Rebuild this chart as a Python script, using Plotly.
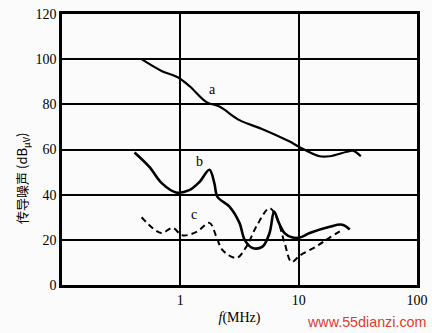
import math
import plotly.graph_objects as go

# Conducted noise spectra (frequency in MHz, level in dBμV)
freq_a = [0.47, 0.70, 0.95, 1.2, 1.66, 2.14, 3.16, 4.95, 8.4, 10.2, 15, 18.3, 25.5, 28.7, 33.5]
noise_a = [100, 94.7, 92, 88, 81, 79, 73, 69, 63.5, 61, 57, 57, 59, 59.5, 57]

freq_b = [0.41, 0.545, 0.70, 0.92, 1.19, 1.45, 1.76, 1.94, 2.06, 2.6, 3.16, 3.5, 4.07, 4.95,
          5.67, 6.2, 6.8, 7.6, 8.9, 10.2, 12.4, 18.3, 23.3, 27]
noise_b = [58.7, 52.4, 45, 41, 42, 45.6, 51, 45, 39, 34.7, 27.5, 20, 16.4, 17,
           23, 32.5, 27.5, 23, 21, 21, 23, 25.8, 26.7, 24.6]

freq_c = [0.47, 0.69, 0.86, 1.04, 1.37, 1.76, 2.02, 2.27, 2.98, 3.62, 4.4, 5.67, 6.5, 7.6,
          8.7, 10.2, 14, 18.3, 23.3]
noise_c = [30, 23, 25.3, 22, 23.5, 27.5, 21.3, 15.5, 12, 17, 26, 34, 30, 18.7,
           10.2, 13, 17, 21, 24.4]

curve_labels = ["a", "b", "c"]
label_freq = [1.87, 1.45, 1.31]
label_level = [86.5, 54.5, 31]

x_ticks = [1, 10, 100]
y_ticks = [0, 20, 40, 60, 80, 100, 120]

serif = "Liberation Serif, Times New Roman, serif"

fig = go.Figure()
fig.add_trace(go.Scatter(x=freq_a, y=noise_a, mode="lines",
                         line=dict(color="black", width=2.2, shape="spline")))
fig.add_trace(go.Scatter(x=freq_b, y=noise_b, mode="lines",
                         line=dict(color="black", width=2.6, shape="spline")))
fig.add_trace(go.Scatter(x=freq_c, y=noise_c, mode="lines",
                         line=dict(color="black", width=2, shape="spline", dash="6px,4px")))

# curve letters (annotation x on a log axis is given as log10)
for txt, fx, fy in zip(curve_labels, label_freq, label_level):
    fig.add_annotation(x=math.log10(fx), y=fy, xref="x", yref="y", text=txt, showarrow=False,
                       font=dict(family=serif, size=14, color="black"), xanchor="center")

# vertical axis caption
fig.add_annotation(x=-0.11, y=0.395, xref="paper", yref="paper",
                   text="传导噪声 (dB<sub>μV</sub>)", textangle=-90, showarrow=False,
                   xanchor="center", yanchor="middle",
                   font=dict(family="Noto Sans CJK SC, serif", size=13, color="black"))

fig.add_annotation(x=1.032, y=-0.135, xref="paper", yref="paper", text="www.55dianzi.com",
                   showarrow=False, xanchor="right", yanchor="middle",
                   font=dict(family="Liberation Sans, Arial, sans-serif", size=14.3, color="#e03a2e"))

fig.update_xaxes(type="log", range=[-1, 2], tickvals=x_ticks, ticktext=[str(v) for v in x_ticks],
                 showgrid=True, gridcolor="black", gridwidth=2,
                 showline=True, linecolor="black", linewidth=2.5, mirror=True,
                 ticks="", zeroline=False, automargin=False,
                 tickfont=dict(family=serif, size=14, color="black"),
                 title=dict(text="<i>f</i>(MHz)", font=dict(family=serif, size=14, color="black"),
                            standoff=6))
fig.update_yaxes(range=[0, 120], tickvals=y_ticks,
                 showgrid=True, gridcolor="black", gridwidth=2,
                 showline=True, linecolor="black", linewidth=2.5, mirror=True,
                 ticks="", zeroline=False, automargin=False,
                 tickfont=dict(family=serif, size=14, color="black"))

fig.update_layout(width=432, height=333, margin=dict(l=62, r=15, t=14, b=48),
                  paper_bgcolor="#fbfbfb", plot_bgcolor="#fbfbfb", showlegend=False)

fig.write_html("out.html")
